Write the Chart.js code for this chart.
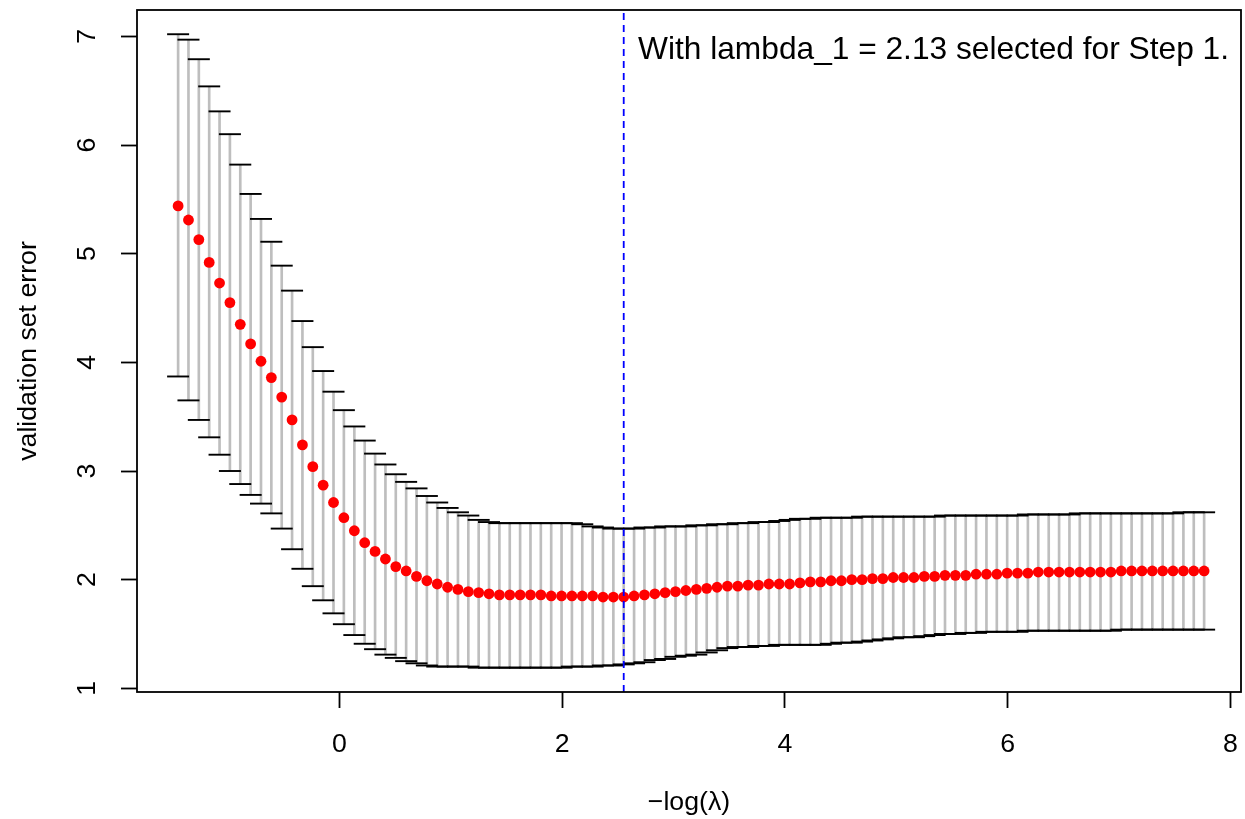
<!DOCTYPE html>
<html>
<head>
<meta charset="utf-8">
<script src="https://cdn.jsdelivr.net/npm/chart.js@4"></script>
<style>
  html, body { margin: 0; padding: 0; background: #fff; }
  #wrap { width: 1245px; height: 819px; }
</style>
</head>
<body>
<div id="wrap"><canvas id="grafico" width="1245" height="819"></canvas></div>
<script>
// valores (100 lambdas)
const negLogLambda = [
  -1.447, -1.354, -1.261, -1.168, -1.075, -0.982, -0.889, -0.796, -0.703, -0.610,
  -0.517, -0.424, -0.331, -0.238, -0.145, -0.052, 0.041, 0.135, 0.228, 0.321,
  0.414, 0.507, 0.600, 0.693, 0.786, 0.879, 0.972, 1.065, 1.158, 1.251,
  1.344, 1.437, 1.530, 1.623, 1.716, 1.809, 1.902, 1.995, 2.088, 2.181,
  2.274, 2.367, 2.460, 2.553, 2.646, 2.739, 2.832, 2.925, 3.018, 3.111,
  3.205, 3.298, 3.391, 3.484, 3.577, 3.670, 3.763, 3.856, 3.949, 4.042,
  4.135, 4.228, 4.321, 4.414, 4.507, 4.600, 4.693, 4.786, 4.879, 4.972,
  5.065, 5.158, 5.251, 5.344, 5.437, 5.530, 5.623, 5.716, 5.809, 5.902,
  5.995, 6.088, 6.181, 6.274, 6.368, 6.461, 6.554, 6.647, 6.740, 6.833,
  6.926, 7.019, 7.112, 7.205, 7.298, 7.391, 7.484, 7.577, 7.670, 7.763
];

const erroMedio = [
  5.44, 5.31, 5.13, 4.92, 4.73, 4.55, 4.35, 4.17, 4.01, 3.86,
  3.68, 3.47, 3.24, 3.04, 2.87, 2.71, 2.57, 2.45, 2.34, 2.26,
  2.19, 2.12, 2.08, 2.03, 1.99, 1.96, 1.93, 1.91, 1.89, 1.88,
  1.87, 1.86, 1.86, 1.86, 1.86, 1.86, 1.85, 1.85, 1.85, 1.85,
  1.85, 1.84, 1.84, 1.84, 1.85, 1.86, 1.87, 1.88, 1.89, 1.90,
  1.91, 1.92, 1.93, 1.94, 1.94, 1.95, 1.95, 1.96, 1.96, 1.96,
  1.97, 1.98, 1.98, 1.99, 1.99, 2.00, 2.00, 2.01, 2.01, 2.02,
  2.02, 2.02, 2.03, 2.03, 2.04, 2.04, 2.04, 2.05, 2.05, 2.05,
  2.06, 2.06, 2.06, 2.07, 2.07, 2.07, 2.07, 2.07, 2.07, 2.07,
  2.07, 2.08, 2.08, 2.08, 2.08, 2.08, 2.08, 2.08, 2.08, 2.08
];

const erroSuperior = [
  7.02, 6.97, 6.79, 6.54, 6.31, 6.10, 5.82, 5.55, 5.32, 5.11,
  4.89, 4.66, 4.38, 4.14, 3.92, 3.73, 3.56, 3.41, 3.28, 3.16,
  3.06, 2.97, 2.90, 2.84, 2.77, 2.71, 2.66, 2.62, 2.59, 2.55,
  2.53, 2.52, 2.52, 2.52, 2.52, 2.52, 2.52, 2.52, 2.52, 2.51,
  2.49, 2.48, 2.47, 2.47, 2.47, 2.48, 2.48, 2.49, 2.49, 2.49,
  2.50, 2.50, 2.51, 2.51, 2.52, 2.52, 2.53, 2.53, 2.54, 2.55,
  2.56, 2.56, 2.57, 2.57, 2.57, 2.57, 2.58, 2.58, 2.58, 2.58,
  2.58, 2.58, 2.58, 2.58, 2.59, 2.59, 2.59, 2.59, 2.59, 2.59,
  2.59, 2.59, 2.60, 2.60, 2.60, 2.60, 2.60, 2.61, 2.61, 2.61,
  2.61, 2.61, 2.61, 2.61, 2.61, 2.61, 2.61, 2.62, 2.62, 2.62
];

const erroInferior = [
  3.87, 3.65, 3.47, 3.31, 3.15, 3.00, 2.88, 2.78, 2.70, 2.61,
  2.47, 2.28, 2.10, 1.94, 1.81, 1.69, 1.59, 1.49, 1.41, 1.36,
  1.31, 1.28, 1.25, 1.23, 1.21, 1.20, 1.20, 1.20, 1.20, 1.19,
  1.19, 1.19, 1.19, 1.19, 1.19, 1.19, 1.19, 1.19, 1.20, 1.20,
  1.20, 1.21, 1.21, 1.22, 1.23, 1.24, 1.26, 1.27, 1.29, 1.30,
  1.31, 1.33, 1.35, 1.37, 1.38, 1.38, 1.39, 1.39, 1.40, 1.40,
  1.40, 1.40, 1.40, 1.41, 1.42, 1.42, 1.43, 1.44, 1.45, 1.46,
  1.47, 1.47, 1.48, 1.49, 1.50, 1.50, 1.51, 1.51, 1.52, 1.52,
  1.52, 1.52, 1.53, 1.53, 1.53, 1.53, 1.53, 1.53, 1.53, 1.53,
  1.53, 1.54, 1.54, 1.54, 1.54, 1.54, 1.54, 1.54, 1.54, 1.54
];

const xTicks = [0, 2, 4, 6, 8];
const yTicks = [1, 2, 3, 4, 5, 6, 7];
const lambdaEscolhido = 2.553;
const nota = 'With lambda_1 = 2.13 selected for Step 1.';

const xMin = -1.816, xMax = 8.094;
const yMin = 0.966, yMax = 7.243;
const fonte = '"Liberation Sans", Arial, Helvetica, sans-serif';

Chart.defaults.font.family = fonte;
Chart.defaults.color = '#000';

// caixa em volta da área e o texto do canto
const caixa = {
  id: 'caixa',
  afterDraw(chart) {
    const { ctx, chartArea: a } = chart;
    ctx.save();
    ctx.strokeStyle = '#000';
    ctx.lineWidth = 1.8;
    ctx.strokeRect(a.left, a.top, a.right - a.left, a.bottom - a.top);
    ctx.font = '31.7px ' + fonte;
    ctx.fillStyle = '#000';
    ctx.textAlign = 'right';
    ctx.textBaseline = 'alphabetic';
    ctx.fillText(nota, a.right - 12, a.top + 49);
    ctx.restore();
  }
};

// tira o espaço extra que o Chart.js reserva p/ os rótulos
function semFolga(s) {
  s.paddingTop = 0;
  s.paddingBottom = 0;
  s.paddingLeft = 0;
  s.paddingRight = 0;
}

const pontos = (ys) => negLogLambda.map((x, i) => ({ x, y: ys[i] }));

new Chart(document.getElementById('grafico'), {
  type: 'bar',
  data: {
    datasets: [
      {
        type: 'line',
        data: [{ x: lambdaEscolhido, y: yMin }, { x: lambdaEscolhido, y: yMax }],
        borderColor: '#0000ff',
        borderWidth: 1.8,
        borderDash: [7, 5],
        pointRadius: 0,
        fill: false,
        order: 0
      },
      {
        type: 'scatter',
        data: pontos(erroMedio),
        pointStyle: 'circle',
        pointRadius: 5.4,
        pointBackgroundColor: '#ff0000',
        pointBorderWidth: 0,
        order: 1
      },
      {
        type: 'scatter',
        data: pontos(erroSuperior),
        pointStyle: 'line',
        pointRadius: 11,
        pointBorderColor: '#000',
        pointBorderWidth: 1.9,
        order: 2
      },
      {
        type: 'scatter',
        data: pontos(erroInferior),
        pointStyle: 'line',
        pointRadius: 11,
        pointBorderColor: '#000',
        pointBorderWidth: 1.9,
        order: 2
      },
      {
        type: 'bar',
        data: negLogLambda.map((x, i) => ({ x, y: [erroInferior[i], erroSuperior[i]] })),
        backgroundColor: '#bebebe',
        borderWidth: 0,
        barThickness: 2,
        order: 3
      }
    ]
  },
  options: {
    responsive: false,
    animation: false,
    events: [],
    layout: { autoPadding: false, padding: { left: 0, right: 4, top: 10, bottom: 0 } },
    plugins: {
      legend: { display: false },
      tooltip: { enabled: false }
    },
    scales: {
      x: {
        type: 'linear',
        min: xMin,
        max: xMax,
        offset: false,
        afterBuildTicks: s => { s.ticks = xTicks.map(v => ({ value: v })); },
        afterFit: s => { s.height = 127; semFolga(s); },
        border: { display: false },
        grid: { drawOnChartArea: false, drawTicks: true, tickLength: 16, tickColor: '#000', tickWidth: 1.8, offset: false },
        ticks: { color: '#000', font: { size: 26.7 }, padding: 21, maxRotation: 0, autoSkip: false, callback: v => String(v) },
        title: { display: true, text: '\u2212log(\u03bb)', color: '#000', font: { size: 26.7 }, padding: { top: 0, bottom: 0 } }
      },
      y: {
        type: 'linear',
        min: yMin,
        max: yMax,
        afterBuildTicks: s => { s.ticks = yTicks.map(v => ({ value: v })); },
        afterFit: s => { s.width = 137; semFolga(s); },
        border: { display: false },
        grid: { drawOnChartArea: false, drawTicks: true, tickLength: 16, tickColor: '#000', tickWidth: 1.8 },
        ticks: { color: '#000', font: { size: 26.7 }, padding: 26, minRotation: 90, maxRotation: 90, crossAlign: 'center', autoSkip: false, callback: v => String(v) },
        title: { display: true, text: 'validation set error', color: '#000', font: { size: 26.7 }, padding: { top: 13, bottom: 0 } }
      }
    }
  },
  plugins: [caixa]
});
</script>
</body>
</html>
